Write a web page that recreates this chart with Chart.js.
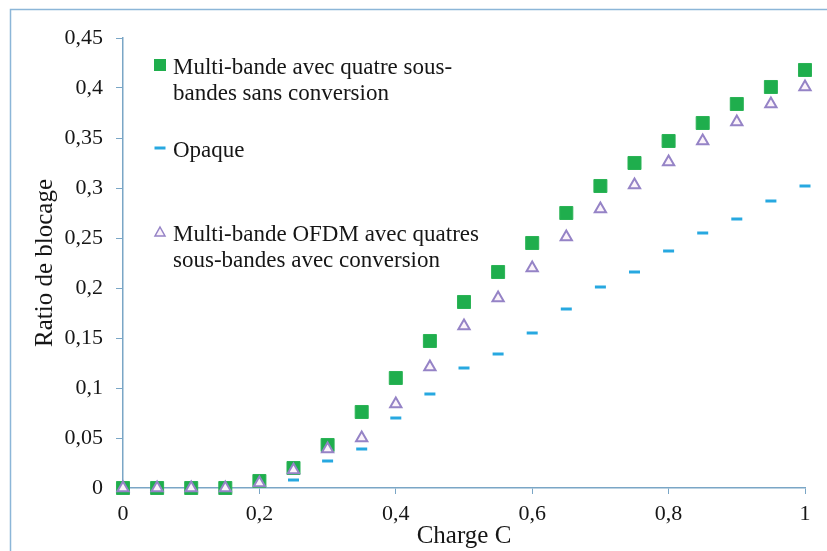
<!DOCTYPE html>
<html>
<head>
<meta charset="utf-8">
<script src="https://cdn.jsdelivr.net/npm/chart.js@4"></script>
<style>
    html, body { margin: 0; padding: 0; background: #fff; }
    #cadre { width: 827px; height: 551px; }
</style>
</head>
<body>
<div id="cadre"><canvas id="ratioChart" width="827" height="551"></canvas></div>
<script>
const charges = [0, 0.05, 0.1, 0.15, 0.2, 0.25, 0.3, 0.35, 0.4, 0.45, 0.5, 0.55, 0.6, 0.65, 0.7, 0.75, 0.8, 0.85, 0.9, 0.95, 1]
const multiSansConversion = [0, 0, 0, 0, 0.007, 0.02, 0.043, 0.076, 0.11, 0.147, 0.186, 0.216, 0.245, 0.275, 0.302, 0.325, 0.347, 0.365, 0.384, 0.401, 0.418]
const opaque = [0, 0, 0, 0, 0.002, 0.008, 0.027, 0.039, 0.07, 0.094, 0.12, 0.134, 0.155, 0.179, 0.201, 0.216, 0.237, 0.255, 0.269, 0.287, 0.302]
const ofdmAvecConversion = [0, 0, 0, 0, 0.005, 0.018, 0.039, 0.05, 0.084, 0.121, 0.162, 0.19, 0.22, 0.251, 0.279, 0.303, 0.326, 0.347, 0.366, 0.384, 0.401]

const legendeMulti = ['Multi-bande avec quatre sous-', 'bandes sans conversion']
const legendeOpaque = ['Opaque']
const legendeOfdm = ['Multi-bande OFDM avec quatres', 'sous-bandes avec conversion']

const police = "'Liberation Serif', 'Times New Roman', serif"
const couleurAxe = '#7aa6c6'
const couleurTexte = '#161616'

function points(valeurs) {
    return charges.map((c, i) => ({ x: c, y: valeurs[i] }))
}

function virgule(v) {
    return Number(v.toFixed(2)).toString().replace('.', ',')
}

// cadre bleu clair autour du graphique
const cadre = {
    id: 'cadre',
    beforeDraw(chart) {
        const ctx = chart.ctx
        ctx.save()
        ctx.fillStyle = '#fff'
        ctx.fillRect(0, 0, chart.width, chart.height)
        ctx.strokeStyle = '#8cb6d8'
        ctx.lineWidth = 1.5
        ctx.strokeRect(10.5, 9.5, 1000, 1000)
        ctx.restore()
    }
}

// légende à l'intérieur de la zone du graphique
const legende = {
    id: 'legende',
    afterDraw(chart) {
        const ctx = chart.ctx
        const xMarque = 160
        const xTexte = 173
        const entrees = [
            { ds: chart.data.datasets[1], lignes: legendeMulti, base: 74 },
            { ds: chart.data.datasets[2], lignes: legendeOpaque, base: 157 },
            { ds: chart.data.datasets[0], lignes: legendeOfdm, base: 241 }
        ]
        ctx.save()
        entrees.forEach(e => {
            const y = e.base - 9
            const ds = e.ds
            ctx.beginPath()
            if (ds.pointStyle === 'rect') {
                ctx.fillStyle = ds.backgroundColor
                ctx.fillRect(xMarque - 6, y - 6, 12, 12)
            } else if (ds.pointStyle === 'line') {
                ctx.strokeStyle = ds.borderColor
                ctx.lineWidth = 3
                ctx.moveTo(xMarque - 5.5, y)
                ctx.lineTo(xMarque + 5.5, y)
                ctx.stroke()
            } else {
                ctx.strokeStyle = ds.borderColor
                ctx.fillStyle = ds.backgroundColor
                ctx.lineWidth = 1.5
                ctx.moveTo(xMarque, y - 5)
                ctx.lineTo(xMarque + 5, y + 4)
                ctx.lineTo(xMarque - 5, y + 4)
                ctx.closePath()
                ctx.fill()
                ctx.stroke()
            }
            ctx.fillStyle = couleurTexte
            ctx.font = '23px ' + police
            ctx.textBaseline = 'alphabetic'
            e.lignes.forEach((ligne, i) => {
                ctx.fillText(ligne, xTexte, e.base + i * 26)
            })
        })
        ctx.restore()
    }
}

const ctx = document.getElementById('ratioChart').getContext('2d')

new Chart(ctx, {
    type: 'scatter',
    data: {
        datasets: [{
            label: legendeOfdm.join(' '),
            data: points(ofdmAvecConversion),
            pointStyle: 'triangle',
            pointRadius: 6.5,
            pointBorderWidth: 2,
            borderColor: '#9583c6',
            backgroundColor: '#fbf3fa',
            order: 1
        }, {
            label: legendeMulti.join(' '),
            data: points(multiSansConversion),
            pointStyle: 'rect',
            pointRadius: 9.2,
            pointBorderWidth: 1,
            borderColor: '#2bb356',
            backgroundColor: '#1fae4d',
            order: 2
        }, {
            label: legendeOpaque[0],
            data: points(opaque),
            pointStyle: 'line',
            pointRadius: 5.5,
            pointBorderWidth: 3,
            borderColor: '#27a8e0',
            backgroundColor: '#27a8e0',
            order: 3
        }]
    },
    options: {
        responsive: false,
        animation: false,
        clip: false,
        layout: {
            padding: { left: 0, top: 38, right: 22, bottom: 0 }
        },
        scales: {
            x: {
                type: 'linear',
                min: 0,
                max: 1,
                afterFit: scale => { scale.height = 63 },
                ticks: {
                    stepSize: 0.2,
                    padding: 7,
                    color: couleurTexte,
                    font: { family: police, size: 22 },
                    callback: v => virgule(v)
                },
                grid: {
                    drawOnChartArea: false,
                    tickLength: 6,
                    color: couleurAxe
                },
                border: { color: couleurAxe, width: 1.5 },
                title: {
                    display: true,
                    text: 'Charge C',
                    color: couleurTexte,
                    font: { family: police, size: 25 },
                    padding: { top: 0, bottom: 0 }
                }
            },
            y: {
                min: 0,
                max: 0.45,
                afterFit: scale => { scale.width = 123 },
                ticks: {
                    stepSize: 0.05,
                    padding: 13,
                    color: couleurTexte,
                    font: { family: police, size: 22 },
                    callback: v => virgule(v)
                },
                grid: {
                    drawOnChartArea: false,
                    tickLength: 7,
                    color: couleurAxe
                },
                border: { color: couleurAxe, width: 1.5 },
                title: {
                    display: true,
                    text: 'Ratio de blocage',
                    color: couleurTexte,
                    font: { family: police, size: 25 },
                    padding: { top: 30, bottom: 0 }
                }
            }
        },
        plugins: {
            legend: { display: false },
            tooltip: { enabled: false }
        }
    },
    plugins: [cadre, legende]
})
</script>
</body>
</html>
